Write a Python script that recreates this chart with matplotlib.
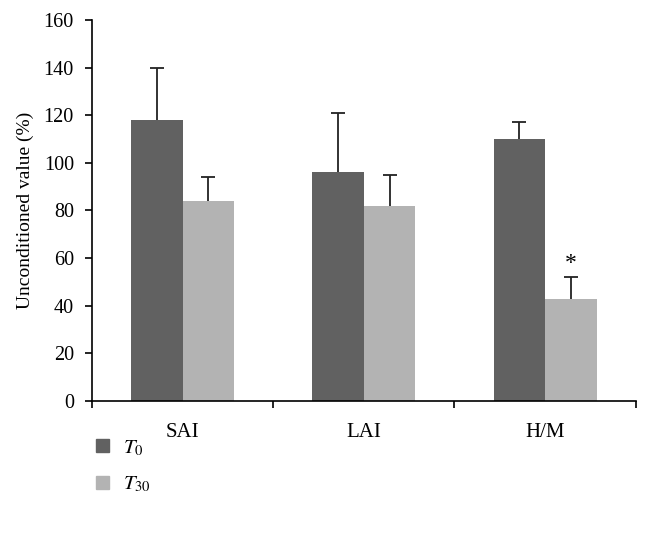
import matplotlib
matplotlib.use("Agg")
import matplotlib.pyplot as plt
import numpy as np
from matplotlib.patches import Patch

categories = ["SAI", "LAI", "H/M"]
t0_values = [118, 96, 110]
t0_errors = [22, 25, 7]
t30_values = [84, 82, 43]
t30_errors = [10, 13, 9]
series_labels = ["$T_0$", "$T_{30}$"]
yticks = [0, 20, 40, 60, 80, 100, 120, 140, 160]

plt.rcParams["font.family"] = ["Liberation Serif", "DejaVu Serif"]
plt.rcParams["mathtext.fontset"] = "stix"

dark = "#616161"
light = "#b3b3b3"

fig = plt.figure(figsize=(6.5, 5.33), dpi=100)
ax = fig.add_axes([0.1415, 0.2477, 0.8365, 0.7148])

x = np.arange(len(categories)) + 0.5
w = 0.284
ax.bar(x - w / 2, t0_values, width=w, color=dark, zorder=2)
ax.bar(x + w / 2, t30_values, width=w, color=light, zorder=2)
ekw = dict(fmt="none", ecolor="#222222", elinewidth=1.3, capsize=5, capthick=1.3, zorder=1)
for pos, vals, errs in [(x - w / 2, t0_values, t0_errors), (x + w / 2, t30_values, t30_errors)]:
    eb = ax.errorbar(pos, vals, yerr=[np.zeros(3), errs], **ekw)
    eb[1][0].set_visible(False)

# significance marker
ax.text(x[2] + w / 2, t30_values[2] + t30_errors[2] + 1.5, "*", ha="center", va="bottom", fontsize=17)

ax.set_xlim(0, 3)
ax.set_ylim(0, 160)
ax.set_yticks(yticks)
ax.set_xticks([0, 1, 2, 3])
ax.set_xticklabels([])
ax.set_xticks(x, minor=True)
ax.set_xticklabels(categories, minor=True, fontsize=15)
ax.tick_params(axis="x", which="minor", length=0, pad=16)
ax.tick_params(axis="x", which="major", direction="out", length=5, width=1.2)
ax.tick_params(axis="y", direction="out", length=5, width=1.2, labelsize=14.5, pad=8)
for s in ["top", "right"]:
    ax.spines[s].set_visible(False)
for s in ["left", "bottom"]:
    ax.spines[s].set_linewidth(1.2)
ax.set_ylabel("Unconditioned value (%)", fontsize=14, labelpad=7)

handles = [Patch(color=dark), Patch(color=light)]
fig.legend(handles, series_labels, loc="upper left", bbox_to_anchor=(0.132, 0.197),
           frameon=False, fontsize=15, handlelength=0.6, handleheight=0.6,
           labelspacing=0.8, handletextpad=0.7, borderpad=0)

fig.savefig("out.png", dpi=100)
